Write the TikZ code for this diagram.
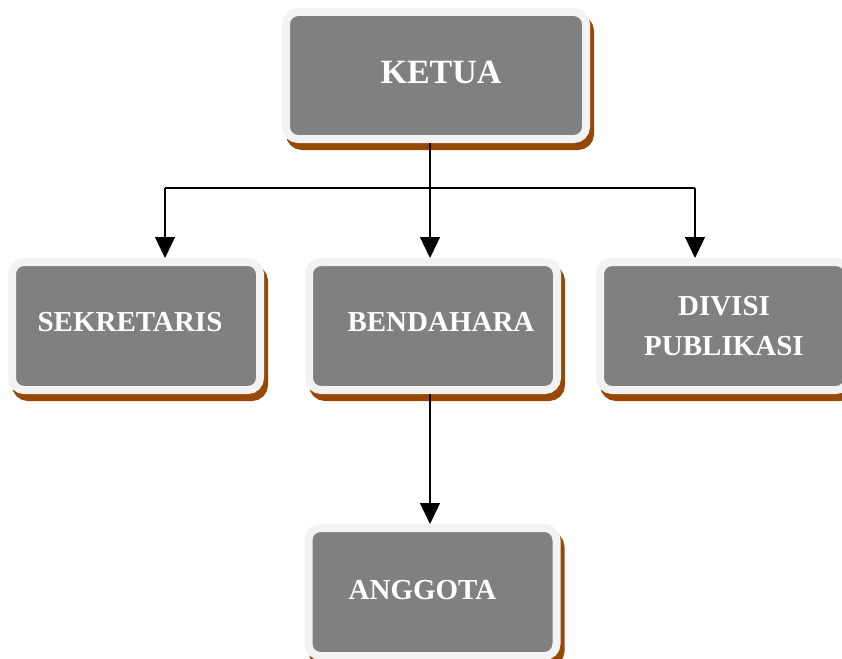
\documentclass[tikz,border=0pt]{standalone}
\usepackage{fontspec}
\setmainfont{Liberation Serif}
\usepackage{xcolor}
\usepackage{tikz}
\usetikzlibrary{positioning}
\usetikzlibrary{shadows}
\usetikzlibrary{arrows.meta}
\definecolor{boxgray}{HTML}{808080}
\definecolor{rimgray}{HTML}{F2F2F2}
\definecolor{shadebrown}{HTML}{984806}

\begin{document}
\begin{tikzpicture}[x=1pt, y=-1pt,
  box/.style={rectangle, rounded corners=12pt, fill=boxgray, draw=rimgray, line width=8pt,
    inner sep=0pt, minimum width=248pt, minimum height=128pt, align=center,
    text=white, font=\bfseries\fontsize{29}{40}\selectfont,
    drop shadow={shadow xshift=4pt, shadow yshift=-7pt, fill=shadebrown, draw=shadebrown,
      line width=8pt, opacity=1}},
  conn/.style={line width=1.3pt, -{Triangle[length=21pt, width=20pt]}}]
\useasboundingbox (0,0) rectangle (842,658);

% boxes (text nudged off centre as in the original)
\node[box, minimum width=300pt, minimum height=127pt, font=\bfseries\fontsize{34}{40}\selectfont] (ketua) at (436,75.5) {\hspace*{10pt}\raisebox{6pt}{KETUA}};
\node[box] (sekretaris) at (136,326) {\raisebox{8pt}{SEKRETARIS}\hspace*{12pt}};
\node[box] (bendahara) at (433,326) {\hspace*{16pt}\raisebox{8pt}{BENDAHARA}};
\node[box] (divisi) at (724,326) {DIVISI\\PUBLIKASI};
\node[box] (anggota) at (432.5,592) {\raisebox{4pt}{ANGGOTA}\hspace*{20pt}};

\coordinate (busL) at (165,188);
\coordinate (busR) at (695,188);

\draw[conn] ([xshift=-6pt]ketua.south) -- ([xshift=-3pt]bendahara.north);
\draw[line width=1.3pt] (busL) -- (busR);
\draw[conn] (busL) -- (busL |- sekretaris.north);
\draw[conn] (busR) -- (busR |- divisi.north);
\draw[conn] ([xshift=-3pt]bendahara.south) -- ([xshift=-2.5pt]anggota.north);
\end{tikzpicture}
\end{document}
